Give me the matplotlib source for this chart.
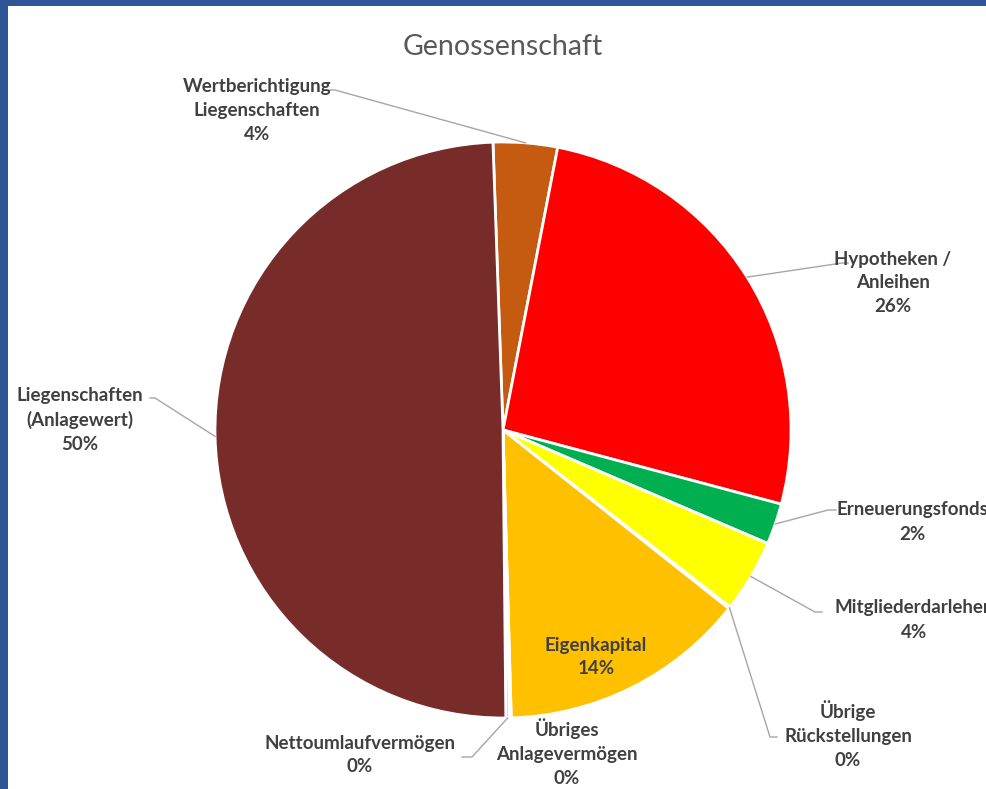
import numpy as np
import matplotlib
matplotlib.use("Agg")
import matplotlib.pyplot as plt
from matplotlib.patches import Rectangle

# === DATA ===
labels = ["Wertberichtigung\nLiegenschaften", "Hypotheken /\nAnleihen", "Erneuerungsfonds",
          "Mitgliederdarlehen", "Übrige\nRückstellungen", "Eigenkapital",
          "Übriges\nAnlagevermögen", "Nettoumlaufvermögen", "Liegenschaften\n(Anlagewert)"]
values = [3.6, 26.1, 2.3, 4.1, 0.1, 13.9, 0.1, 0.2, 49.6]
colors = ["#C55A11", "#FF0000", "#00B050", "#FFFF00", "#BDD7EE", "#FFC000",
          "#F4D0D0", "#F8B4A8", "#772C2A"]
title = "Genossenschaft"

# === LAYOUT (pixels, measured from the top-left) ===
W, H = 987, 789
cx, cy, r = 503, 430, 288
# text centre, elbow point of leader (None = no leader), x where leader meets text
label_pos = [
    ((257, 110), (335, 90), 330),
    ((893, 283), (842, 263), 848),
    ((912, 522), (828, 510), 836),
    ((914, 620), (815, 612), 822),
    ((848, 735), (770, 737), 777),
    ((596, 657), None, None),
    ((567, 753), None, None),
    ((360, 755), (472, 757), 462),
    ((80, 420), (155, 398), 150),
]
text_col = "#404040"
line_col = "#A6A6A6"
font = ["Lato", "DejaVu Sans"]


def fy(y):
    # pixel-from-top -> y-up data coordinate
    return H - y


fig = plt.figure(figsize=(W / 100, H / 100), dpi=100)
fig.patch.set_facecolor("#2F5597")
ax = fig.add_axes([0, 0, 1, 1])
ax.add_patch(Rectangle((8, 0), W - 8, H - 6, facecolor="white", edgecolor="none", zorder=0))

total = sum(values)
wedges, _ = ax.pie(values, colors=colors, startangle=92, counterclock=False,
                   center=(cx, fy(cy)), radius=r, frame=True,
                   wedgeprops=dict(edgecolor="white", linewidth=2))
ax.set_xlim(0, W)
ax.set_ylim(0, H)
ax.set_aspect("equal")
ax.axis("off")

for w, lab, v, (tpos, elbow, tx) in zip(wedges, labels, values, label_pos):
    pct = v / total * 100
    txt = f"{lab}\n{pct:.0f}%"
    ax.text(tpos[0], fy(tpos[1]), txt, ha="center", va="center", fontsize=13.5,
            fontweight="bold", color=text_col, family=font, linespacing=1.5, zorder=5)
    if elbow is not None:
        ang = np.deg2rad((w.theta1 + w.theta2) / 2)
        ex, ey = cx + r * np.cos(ang), fy(cy) + r * np.sin(ang)
        ax.plot([ex, elbow[0], tx], [ey, fy(elbow[1]), fy(elbow[1])],
                color=line_col, lw=1, zorder=4)

ax.text(cx, fy(47), title, ha="center", va="center", fontsize=20.5,
        color="#595959", family=font)

fig.savefig("out.png", dpi=100, facecolor=fig.get_facecolor())
